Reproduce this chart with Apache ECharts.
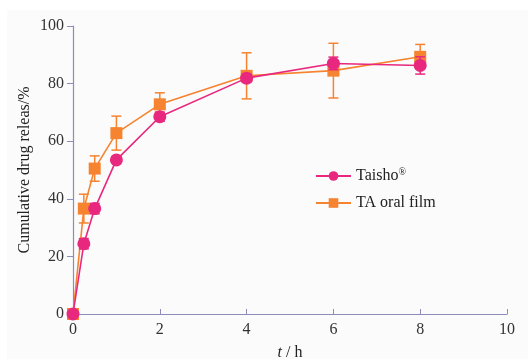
<!DOCTYPE html>
<html><head><meta charset="utf-8">
<script src="https://cdn.jsdelivr.net/npm/echarts@6/dist/echarts.min.js"></script>
<style>html,body{margin:0;padding:0;background:#fff}#c{width:528px;height:359px}</style>
</head><body><div id="c"></div>
<script>
const times = [0, 0.25, 0.5, 1, 2, 4, 6, 8];
const taisho = [0, 24.4, 36.6, 53.5, 68.5, 81.9, 87.0, 86.3];
const taishoErr = [0, 1.8, 1.8, 1.0, 1.6, 1.5, 2.2, 3.0];
const film = [0, 36.6, 50.5, 62.8, 72.8, 82.7, 84.5, 89.3];
const filmErr = [0, 5.0, 4.4, 5.9, 4.0, 8.0, 9.5, 4.3];
const xTicks = [0, 2, 4, 6, 8, 10];
const yTicks = [0, 20, 40, 60, 80, 100];

const PINK = '#e8287e', ORANGE = '#f5832f', AXIS = '#8c8cb8';
const FONT = '"Liberation Serif", "DejaVu Serif", serif';

function pts(vals){ return times.map((t,i)=>[t, vals[i]]); }
function errs(vals, e){ return times.map((t,i)=>[t, vals[i]-e[i], vals[i]+e[i]]); }
function errSeries(name, data, color, z){
  return {
    type: 'custom', name: name + ' err', z: z, silent: true,
    data: data,
    renderItem: function(params, api){
      const x = api.value(0);
      const lo = api.coord([x, api.value(1)]);
      const hi = api.coord([x, api.value(2)]);
      const w = 5;
      const st = {stroke: color, lineWidth: 1.5};
      return {type: 'group', children: [
        {type:'line', shape:{x1:lo[0], y1:lo[1], x2:hi[0], y2:hi[1]}, style: st},
        {type:'line', shape:{x1:lo[0]-w, y1:lo[1], x2:lo[0]+w, y2:lo[1]}, style: st},
        {type:'line', shape:{x1:hi[0]-w, y1:hi[1], x2:hi[0]+w, y2:hi[1]}, style: st}
      ]};
    }
  };
}

const chart = echarts.init(document.getElementById('c'), null, {renderer: 'canvas'});
chart.setOption({
  backgroundColor: '#ffffff',
  animation: false,
  graphic: [{type:'rect', z: -10, shape:{x:7, y:10, width:521, height:349}, style:{fill:'#fbfbfb'}}],
  grid: {left: 73, right: 21, top: 26, bottom: 45, outerBoundsMode: 'none', containLabel: false},
  legend: {
    data: ['Taisho®', 'TA oral film'],
    orient: 'vertical', left: 310, top: 162, itemGap: 11,
    itemWidth: 35, itemHeight: 12,
    textStyle: {fontFamily: FONT, fontSize: 16, color: '#222',
      rich: {sup: {fontFamily: FONT, fontSize: 10, verticalAlign: 'top', padding:[0,0,8,0], color:'#222'}}},
    formatter: function(n){ return n === 'Taisho®' ? 'Taisho{sup|®}' : n; }
  },
  xAxis: {
    type: 'value', min: 0, max: 10, interval: 2,
    name: '{i|t} / h', nameLocation: 'middle', nameGap: 31, nameMoveOverlap: false,
    nameTextStyle: {fontFamily: FONT, fontSize: 16, color: '#222', rich: {i: {fontFamily: FONT, fontStyle:'italic', fontSize: 16, color:'#222'}}},
    axisLine: {lineStyle: {color: AXIS, width: 1.2}},
    axisTick: {inside: true, length: 5, lineStyle: {color: AXIS}},
    axisLabel: {fontFamily: FONT, fontSize: 16, color: '#333', margin: 8},
    splitLine: {show: false}
  },
  yAxis: {
    type: 'value', min: 0, max: 100, interval: 20,
    name: 'Cumulative drug releas/%', nameLocation: 'middle', nameGap: 40, nameMoveOverlap: false,
    nameTextStyle: {fontFamily: FONT, fontSize: 16, color: '#222'},
    axisLine: {show: true, lineStyle: {color: AXIS, width: 1.2}},
    axisTick: {show: true, length: 6, lineStyle: {color: AXIS}},
    axisLabel: {fontFamily: FONT, fontSize: 16, color: '#333', margin: 9},
    splitLine: {show: false}
  },
  series: [
    errSeries('film', errs(film, filmErr), ORANGE, 2),
    {type:'line', name:'TA oral film', data: pts(film), symbol:'rect', symbolSize: 12,
     itemStyle:{color: ORANGE}, lineStyle:{color: ORANGE, width: 1.6}, z: 3},
    errSeries('taisho', errs(taisho, taishoErr), PINK, 4),
    {type:'line', name:'Taisho®', data: pts(taisho), symbol:'circle', symbolSize: 13,
     itemStyle:{color: PINK}, lineStyle:{color: PINK, width: 1.6}, z: 5}
  ]
});
</script></body></html>
